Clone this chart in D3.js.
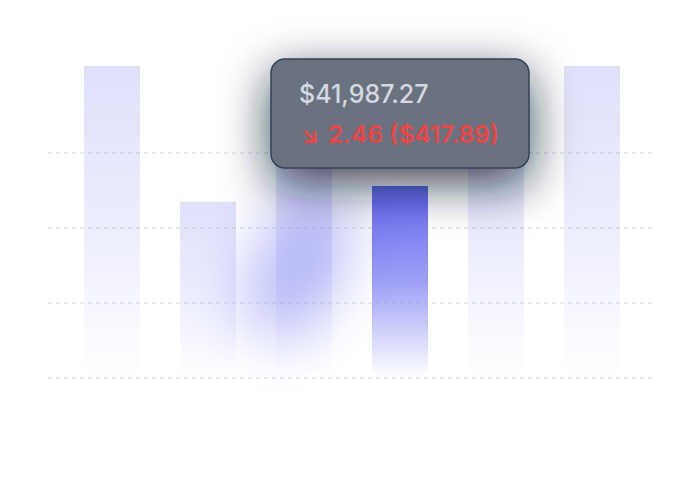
<!DOCTYPE html>
<html>
<head>
<meta charset="utf-8">
<script src="https://cdn.jsdelivr.net/npm/d3@7"></script>
<style>
  body { margin: 0; background: #fff; }
  svg { display: block; }
</style>
</head>
<body>
<div id="chart"></div>
<script>
// data
var categories = ["Mon", "Tue", "Wed", "Thu", "Fri", "Sat"];
var values = [41600, 23500, 30500, 25600, 35500, 41600];
var gridTicks = [0, 10000, 20000, 30000];
var activeIndex = 3;
var tipPrice = "$41,987.27";
var tipArrow = "\u2198";
var tipChange = "2.46 ($417.89)";

var width = 700, height = 480;

var svg = d3.select("#chart").append("svg")
    .attr("width", width)
    .attr("height", height);

var x = d3.scaleBand()
    .domain(categories)
    .range([48, 656])
    .paddingInner(40 / 96)
    .paddingOuter(0.375);

var y = d3.scaleLinear()
    .domain([0, 40000])
    .range([378, 78]);

var defs = svg.append("defs");

// gradients for the bars
function barGradient(id, top, mid) {
  var g = defs.append("linearGradient")
      .attr("id", id)
      .attr("x1", 0).attr("y1", 0).attr("x2", 0).attr("y2", 1);
  g.append("stop").attr("offset", "0%").attr("stop-color", "#6366f1").attr("stop-opacity", top);
  g.append("stop").attr("offset", "50%").attr("stop-color", "#6366f1").attr("stop-opacity", mid);
  g.append("stop").attr("offset", "100%").attr("stop-color", "#6366f1").attr("stop-opacity", 0);
}
barGradient("barFade", 0.2, 0.12);
barGradient("barActive", 1, 0.62);

defs.append("filter")
    .attr("id", "glow")
    .attr("x", "-200%").attr("y", "-100%")
    .attr("width", "500%").attr("height", "300%")
  .append("feGaussianBlur")
    .attr("stdDeviation", 28);

defs.append("filter")
    .attr("id", "tipShadow")
    .attr("x", "-60%").attr("y", "-100%")
    .attr("width", "220%").attr("height", "300%")
  .append("feDropShadow")
    .attr("dx", 0).attr("dy", 15)
    .attr("stdDeviation", 24)
    .attr("flood-color", "#0f172a")
    .attr("flood-opacity", 0.8);

// purple glow under the hovered bar
var bx = x(categories[activeIndex]);
var gx = bx - 75, gy = y(values[activeIndex]) + 80;
svg.append("ellipse")
    .attr("cx", gx)
    .attr("cy", gy)
    .attr("rx", 45)
    .attr("ry", 80)
    .attr("transform", "rotate(30," + gx + "," + gy + ")")
    .attr("fill", "#8b8ff3")
    .attr("opacity", 0.55)
    .attr("filter", "url(#glow)");

// bars
svg.selectAll(".bar")
    .data(values)
  .enter().append("rect")
    .attr("class", "bar")
    .attr("x", function(d, i) { return x(categories[i]); })
    .attr("y", function(d) { return y(d); })
    .attr("width", x.bandwidth())
    .attr("height", function(d) { return y(0) - y(d); })
    .attr("fill", function(d, i) { return i === activeIndex ? "url(#barActive)" : "url(#barFade)"; });

// dashed grid lines, drawn over the bars
svg.selectAll(".grid")
    .data(gridTicks)
  .enter().append("line")
    .attr("class", "grid")
    .attr("x1", 48)
    .attr("x2", 652)
    .attr("y1", function(d) { return y(d); })
    .attr("y2", function(d) { return y(d); })
    .attr("stroke", "#94a3b8")
    .attr("stroke-opacity", 0.3)
    .attr("stroke-width", 1.5)
    .attr("stroke-dasharray", "4,4");

// tooltip
var tip = svg.append("g")
    .attr("transform", "translate(271,59)");

tip.append("rect")
    .attr("width", 258)
    .attr("height", 109)
    .attr("rx", 14)
    .attr("fill", "#6b7280")
    .attr("stroke", "#334155")
    .attr("stroke-width", 1.5)
    .attr("filter", "url(#tipShadow)");

tip.append("text")
    .attr("x", 28)
    .attr("y", 44)
    .attr("font-family", "Inter, 'Noto Sans', sans-serif")
    .attr("font-size", 25)
    .attr("font-weight", 500)
    .attr("fill", "#d5d9e0")
    .text(tipPrice);

var change = tip.append("text")
    .attr("x", 30)
    .attr("y", 84)
    .attr("font-family", "Inter, 'Noto Sans', sans-serif")
    .attr("font-weight", 600)
    .attr("fill", "#ef4444");

change.append("tspan")
    .attr("font-size", 23)
    .attr("font-weight", 700)
    .text(tipArrow);

change.append("tspan")
    .attr("x", 57)
    .attr("font-size", 24.5)
    .text(tipChange);
</script>
</body>
</html>
